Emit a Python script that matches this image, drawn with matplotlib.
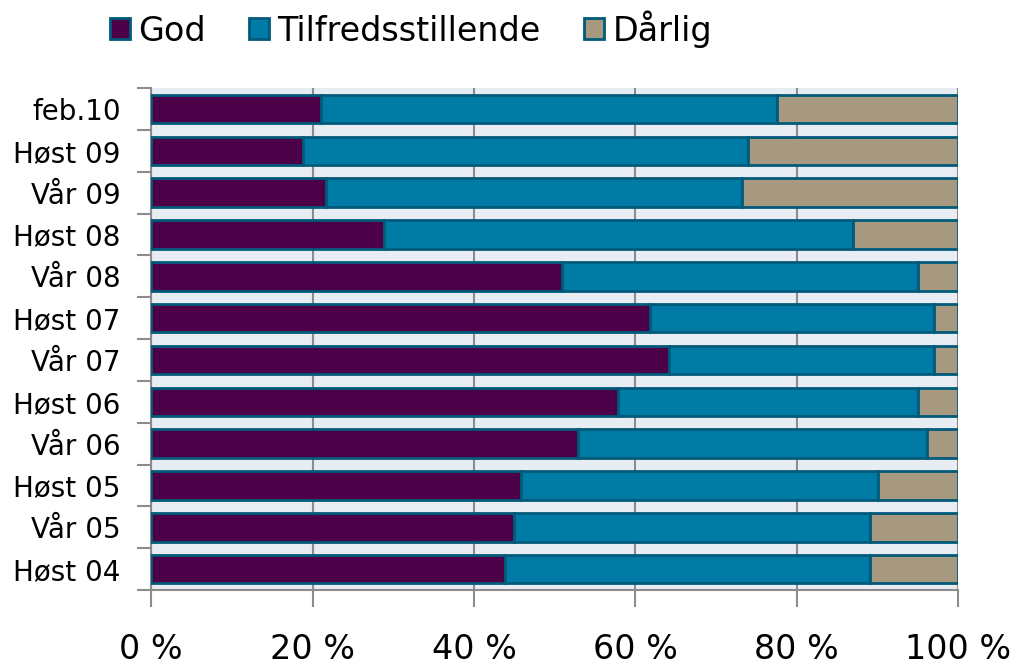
import matplotlib
matplotlib.use("Agg")
from matplotlib import pyplot as plt
from matplotlib.ticker import FixedLocator
import numpy as np

# kategorier nedenfra og opp
perioder = ["Høst 04", "Vår 05", "Høst 05", "Vår 06", "Høst 06", "Vår 07",
            "Høst 07", "Vår 08", "Høst 08", "Vår 09", "Høst 09", "feb.10"]
god = [43.9, 44.9, 45.8, 52.9, 57.9, 64.2, 61.8, 50.9, 28.9, 21.6, 18.8, 21.1]
tilfreds = [45.2, 44.2, 44.3, 43.3, 37.1, 32.8, 35.2, 44.1, 58.1, 51.6, 55.2, 56.5]
daarlig = [10.9, 10.9, 9.9, 3.8, 5.0, 3.0, 3.0, 5.0, 13.0, 26.8, 26.0, 22.4]

serier = ["God", "Tilfredsstillende", "Dårlig"]
farger = ["#4B0047", "#007BA6", "#A6997F"]
kant = "#005A7A"

fig = plt.figure(figsize=(10.15, 6.67), dpi=100)
ax = fig.add_axes([0.149, 0.1154, 0.795, 0.7526])
ax.set_facecolor("#E8ECF3")

y = np.arange(len(perioder))
venstre = np.zeros(len(perioder))
for navn, verdier, farge in zip(serier, [god, tilfreds, daarlig], farger):
    ax.barh(y, verdier, left=venstre, height=0.68, color=farge,
            edgecolor=kant, linewidth=2, label=navn, zorder=3)
    venstre += np.array(verdier)

ax.set_xlim(0, 100)
ax.set_ylim(-0.5, len(perioder) - 0.5)

# rutenett
ax.set_xticks([0, 20, 40, 60, 80, 100])
ax.set_xticklabels(["0 %", "20 %", "40 %", "60 %", "80 %", "100 %"], fontsize=24)
ax.xaxis.grid(True, color="#8C8C8C", linewidth=1.5, zorder=1)
ax.set_axisbelow(True)
ax.tick_params(axis="x", length=12, width=1.5, color="#8C8C8C", pad=19)

ax.set_yticks(y)
ax.set_yticklabels(perioder, fontsize=20)
ax.yaxis.set_minor_locator(FixedLocator(np.arange(-0.5, len(perioder), 1.0)))
ax.tick_params(axis="y", which="major", length=0, pad=22)
ax.tick_params(axis="y", which="minor", length=10, width=1.5, color="#8C8C8C")

for s in ["top", "right"]:
    ax.spines[s].set_visible(False)
for s in ["left", "bottom"]:
    ax.spines[s].set_color("#8C8C8C")
    ax.spines[s].set_linewidth(1.5)

leg = fig.legend(loc="upper center", bbox_to_anchor=(0.405, 1.03), ncol=3,
                 frameon=False, fontsize=24, handlelength=0.6, handleheight=0.6,
                 handletextpad=0.25, columnspacing=1.3)

plt.savefig("out.png", dpi=100)
